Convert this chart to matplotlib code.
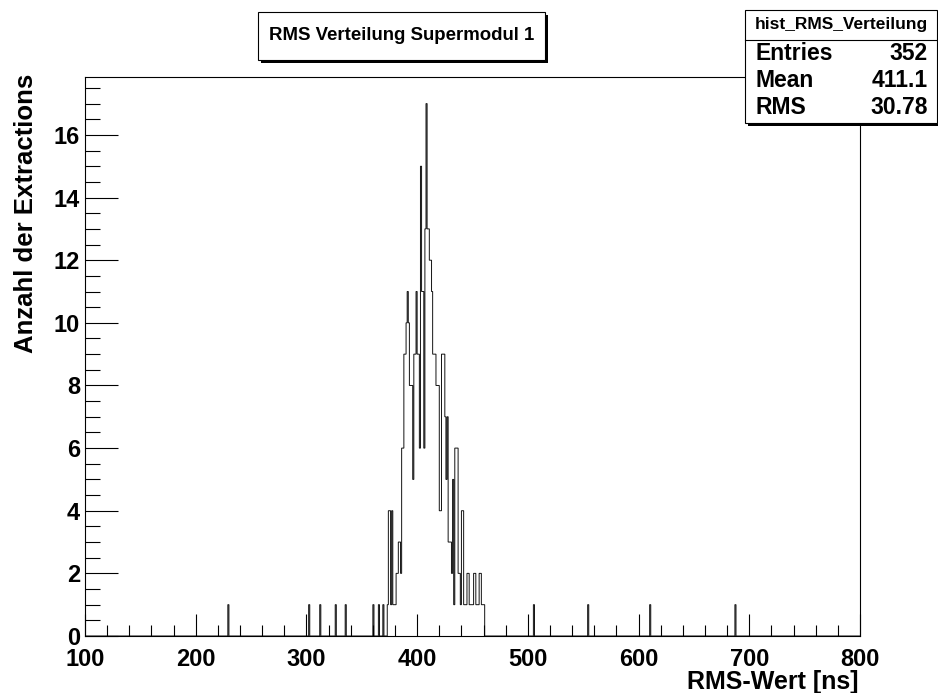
import numpy as np
import matplotlib
matplotlib.use("Agg")
import matplotlib.pyplot as plt
from matplotlib.patches import Rectangle
from matplotlib.ticker import MultipleLocator

plt.rcParams['font.family'] = ['Liberation Sans', 'DejaVu Sans']
plt.rcParams['font.weight'] = 'bold'

# Histogram data: bin lower edge (ns, width 1) -> entries
rms_values = [229, 302, 312, 326, 335, 360, 365, 369,
              373, 374, 375, 376, 377, 378, 379, 380, 381, 382, 383, 384, 385, 386, 387,
              388, 389, 390, 391, 392, 393, 394, 395, 396, 397, 398, 399, 400, 401, 402,
              403, 404, 405, 406, 407, 408, 409, 410, 411, 412, 413, 414, 415, 416, 417, 418, 419,
              420, 421, 422, 423, 424, 425, 426, 427, 428, 429, 430, 431, 432, 433, 434, 435, 436,
              437, 438, 439, 440, 441, 442, 443, 444, 445, 446, 447, 448, 449, 450, 451, 452, 453,
              454, 455, 456, 457, 458, 459, 460,
              505, 554, 610, 687]
rms_counts = [1, 1, 1, 1, 1, 1, 1, 1,
              1, 4, 4, 1, 4, 1, 1, 1, 2, 2, 3, 3, 2, 6, 6,
              9, 9, 10, 11, 10, 8, 8, 8, 5, 9, 9, 11, 9, 9, 6,
              15, 11, 11, 6, 13, 17, 13, 13, 12, 12, 11, 9, 9, 9, 8, 8, 8,
              4, 4, 9, 9, 9, 7, 5, 7, 3, 3, 3, 2, 5, 1, 6, 6, 6,
              2, 2, 1, 4, 4, 1, 1, 1, 2, 2, 1, 1, 1, 1, 2, 2, 1,
              1, 1, 2, 2, 1, 1, 1,
              1, 1, 1, 1]

title = "RMS Verteilung Supermodul 1"
hist_name = "hist_RMS_Verteilung"
stat_labels = ["Entries", "Mean", "RMS"]
stat_values = ["352", "411.1", "30.78"]

W, H = 938, 693
fig = plt.figure(figsize=(W / 100, H / 100), dpi=100)

def fx(px):
    return px / W

def fy(py):
    return 1 - py / H

ax_l, ax_r, ax_t, ax_b = 85, 860, 77, 636
ax = fig.add_axes([fx(ax_l), fy(ax_b), fx(ax_r) - fx(ax_l), fy(ax_t) - fy(ax_b)])

edges = np.arange(100, 801, 1)
counts = np.zeros(len(edges) - 1)
for v, c in zip(rms_values, rms_counts):
    counts[int(v) - 100] = c
ax.stairs(counts, edges, color='#111111', linewidth=0.7)

ax.set_xlim(100, 800)
ax.set_ylim(0, 17.85)

ax.xaxis.set_major_locator(MultipleLocator(100))
ax.xaxis.set_minor_locator(MultipleLocator(20))
ax.yaxis.set_major_locator(MultipleLocator(2))
ax.yaxis.set_minor_locator(MultipleLocator(0.5))
ax.tick_params(axis='both', which='both', direction='in', top=False, right=False)
ax.tick_params(axis='x', which='major', length=16, width=0.8, pad=8.5, labelsize=17)
ax.tick_params(axis='x', which='minor', length=8, width=0.8)
ax.tick_params(axis='y', which='major', length=24, width=0.8, pad=3.6, labelsize=17)
ax.tick_params(axis='y', which='minor', length=11, width=0.8)
for lab in ax.get_xticklabels() + ax.get_yticklabels():
    lab.set_fontweight('bold')
for s in ax.spines.values():
    s.set_linewidth(0.8)

fig.text(fx(858), fy(689), "RMS-Wert [ns]", ha='right', va='baseline',
         fontsize=18, fontweight='bold')
fig.text(fx(26), fy(74), "Anzahl der Extractions", ha='center', va='top',
         rotation=90, fontsize=18.5, fontweight='bold')

# Title box with shadow
tb_l, tb_r, tb_t, tb_b = 258, 545, 12, 60
fig.patches.append(Rectangle((fx(tb_l + 3), fy(tb_b + 3)), fx(tb_r) - fx(tb_l), fy(tb_t) - fy(tb_b),
                             transform=fig.transFigure, facecolor='black', edgecolor='none', zorder=1))
fig.patches.append(Rectangle((fx(tb_l), fy(tb_b)), fx(tb_r) - fx(tb_l), fy(tb_t) - fy(tb_b),
                             transform=fig.transFigure, facecolor='white', edgecolor='black',
                             linewidth=0.8, zorder=2))
fig.text(fx((tb_l + tb_r) / 2), fy((tb_t + tb_b) / 2), title, ha='center', va='center',
         fontsize=13.4, fontweight='bold', zorder=3)

# Stats box
sb_l, sb_r, sb_t, sb_b = 745, 937, 10, 123
fig.patches.append(Rectangle((fx(sb_l + 3), fy(sb_b + 3)), fx(sb_r) - fx(sb_l), fy(sb_t) - fy(sb_b),
                             transform=fig.transFigure, facecolor='black', edgecolor='none', zorder=1))
fig.patches.append(Rectangle((fx(sb_l), fy(sb_b)), fx(sb_r) - fx(sb_l), fy(sb_t) - fy(sb_b),
                             transform=fig.transFigure, facecolor='white', edgecolor='black',
                             linewidth=0.8, zorder=2))
fig.lines.append(plt.Line2D([fx(sb_l), fx(sb_r)], [fy(40), fy(40)], transform=fig.transFigure,
                            color='black', linewidth=0.8, zorder=3))
fig.text(fx((sb_l + sb_r) / 2), fy(25), hist_name, ha='center', va='center',
         fontsize=12.5, fontweight='bold', zorder=3)
for i, (lab, val) in enumerate(zip(stat_labels, stat_values)):
    y = 54 + i * 26.5
    fig.text(fx(755), fy(y), lab, ha='left', va='center', fontsize=16.5, fontweight='bold', zorder=3)
    fig.text(fx(928), fy(y), val, ha='right', va='center', fontsize=16.5, fontweight='bold', zorder=3)

fig.savefig("out.png", dpi=100)
